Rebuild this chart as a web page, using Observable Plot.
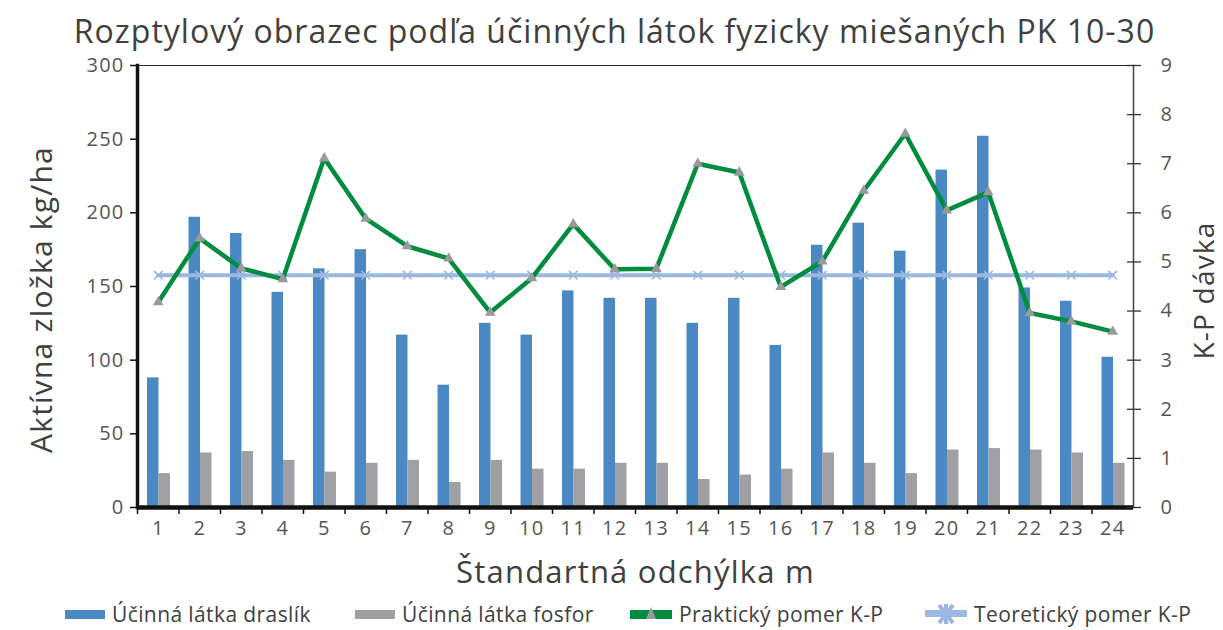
<!DOCTYPE html>
<html>
<head>
<meta charset="utf-8">
<script src="https://cdn.jsdelivr.net/npm/d3@7"></script>
<script src="https://cdn.jsdelivr.net/npm/@observablehq/plot@0.6"></script>
<style>
  html, body { margin: 0; padding: 0; background: #fff; }
  body { width: 1223px; height: 630px; overflow: hidden; font-family: "Open Sans", sans-serif; color: #404040; }
  #title { height: 50px; line-height: 62px; text-align: center; font-size: 32px; letter-spacing: 1px; color: #404040; padding-left: 6px; white-space: nowrap; }
  #legend { height: 36px; font-size: 21px; letter-spacing: 0.4px; color: #404040; position: relative; }
  .item { position: absolute; top: 8px; display: flex; align-items: center; height: 24px; }
</style>
</head>
<body>
<div id="title">Rozptylový obrazec podľa účinných látok fyzicky miešaných PK 10-30</div>
<div id="chart"></div>
<div id="legend"></div>
<script>
const categories = ["1","2","3","4","5","6","7","8","9","10","11","12","13","14","15","16","17","18","19","20","21","22","23","24"];
const draslik = [88,197,186,146,162,175,117,83,125,117,147,142,142,125,142,110,178,193,174,229,252,149,140,102];
const fosfor = [23,37,38,32,24,30,32,17,32,26,26,30,30,19,22,26,37,30,23,39,40,39,37,30];
const prakticky = [4.18,5.48,4.87,4.65,7.11,5.88,5.32,5.07,3.97,4.67,5.77,4.85,4.86,7.0,6.82,4.49,5.01,6.45,7.61,6.05,6.42,3.96,3.79,3.58];
const teoreticky = [4.73,4.73,4.73,4.73,4.73,4.73,4.73,4.73,4.73,4.73,4.73,4.73,4.73,4.73,4.73,4.73,4.73,4.73,4.73,4.73,4.73,4.73,4.73,4.73];
const leftTicks = [0,50,100,150,200,250,300];
const rightTicks = [0,1,2,3,4,5,6,7,8,9];
const seriesNames = ["Účinná látka draslík","Účinná látka fosfor","Praktický pomer K-P","Teoretický pomer K-P"];
const colors = {draslik:"#4a89c4", fosfor:"#a0a0a4", prakticky:"#008c3f", teoreticky:"#9ab8e0", marker:"#9a9a9a"};

const leftMax = 300, rightMax = 9, k = leftMax / rightMax;
const rows = categories.map((c, i) => ({cat: c, draslik: draslik[i], fosfor: fosfor[i], prak: prakticky[i] * k, teor: teoreticky[i] * k}));
const blank = () => "";

const W = 1223, H = 544;
const chart = Plot.plot({
  width: W, height: H,
  marginLeft: 137, marginRight: 90, marginTop: 15, marginBottom: 87,
  style: {fontFamily: "'Open Sans', sans-serif", fontSize: "20px", color: "#555", letterSpacing: "1.2px"},
  x: {type: "band", domain: categories, padding: 0, round: false, axis: null},
  y: {domain: [0, leftMax], axis: null},
  marks: [
    Plot.barY(rows, {x: "cat", y: "draslik", fill: colors.draslik, insetLeft: 10, insetRight: 20}),
    Plot.barY(rows, {x: "cat", y: "fosfor", fill: colors.fosfor, insetLeft: 21.5, insetRight: 8.5}),
    Plot.lineY(rows, {x: "cat", y: "teor", stroke: colors.teoreticky, strokeWidth: 4}),
    Plot.dot(rows, {x: "cat", y: "teor", symbol: "times", r: 4, stroke: colors.teoreticky, strokeWidth: 1.5}),
    Plot.lineY(rows, {x: "cat", y: "prak", stroke: colors.prakticky, strokeWidth: 4.5}),
    Plot.dot(rows, {x: "cat", y: "prak", symbol: "triangle", r: 4, fill: colors.marker, stroke: "none"}),
    Plot.frame({anchor: "top", stroke: "#222", strokeWidth: 1}),
    Plot.frame({anchor: "right", stroke: "#444", strokeWidth: 1.5}),
    Plot.frame({anchor: "left", stroke: "#111", strokeWidth: 3.5}),
    Plot.ruleY([0], {stroke: "#111", strokeWidth: 4.5}),
    // left axis
    Plot.axisY({anchor: "left", ticks: leftTicks, tickSize: 7, tickPadding: 6, stroke: "#111", strokeWidth: 1.5, fill: "#555", label: null}),
    // right axis (ticks cross the axis line)
    Plot.axisY({anchor: "right", ticks: rightTicks.map(v => v * k), tickFormat: d => String(Math.round(d / k)), tickSize: 7, tickPadding: 20, stroke: "#333", strokeWidth: 1.3, fill: "#555", label: null}),
    Plot.axisY({anchor: "right", ticks: rightTicks.map(v => v * k), tickFormat: blank, tickSize: 7, dx: -7, stroke: "#333", strokeWidth: 1.3, label: null}),
    // x axis: tick marks at band edges, labels at centers
    Plot.axisX({anchor: "bottom", tickSize: 7, dx: -20.75, tickFormat: blank, stroke: "#111", strokeWidth: 1.5, label: null}),
    Plot.axisX({anchor: "bottom", tickSize: 0, tickPadding: 13, fill: "#555", label: null}),
    // axis titles
    Plot.text(["Aktívna zložka kg/ha"], {frameAnchor: "left", dx: -95, dy: 13, rotate: -90, fontSize: 30, fill: "#404040", textAnchor: "middle", lineAnchor: "middle"}),
    Plot.text(["K-P dávka"], {frameAnchor: "right", dx: 72, dy: 4, rotate: -90, fontSize: 28, fill: "#404040", textAnchor: "middle", lineAnchor: "middle"}),
    Plot.text(["Štandartná odchýlka m"], {frameAnchor: "bottom", dy: 66, fontSize: 31, fill: "#404040", textAnchor: "middle", lineAnchor: "middle"})
  ]
});
document.getElementById("chart").appendChild(chart);

// legend
const legend = document.getElementById("legend");
const lefts = [65, 355, 630, 925];
const swatches = [
  `<svg width="40" height="20"><rect x="0" y="6" width="40" height="9" fill="${colors.draslik}"/></svg>`,
  `<svg width="40" height="20"><rect x="0" y="6" width="40" height="9" fill="${colors.fosfor}"/></svg>`,
  `<svg width="42" height="20"><rect x="0" y="6" width="42" height="9" fill="${colors.prakticky}"/><path d="M21,3 L26,15 L16,15 Z" fill="${colors.marker}"/></svg>`,
  `<svg width="42" height="24"><rect x="0" y="8" width="42" height="7" fill="${colors.teoreticky}"/><path d="M14,3 L28,21 M28,3 L14,21 M21,2 L21,22" stroke="${colors.teoreticky}" stroke-width="4"/></svg>`
];
seriesNames.forEach((name, i) => {
  const el = document.createElement("div");
  el.className = "item";
  el.style.left = lefts[i] + "px";
  el.innerHTML = swatches[i] + `<span style="margin-left:7px">${name}</span>`;
  legend.appendChild(el);
});
</script>
</body>
</html>
